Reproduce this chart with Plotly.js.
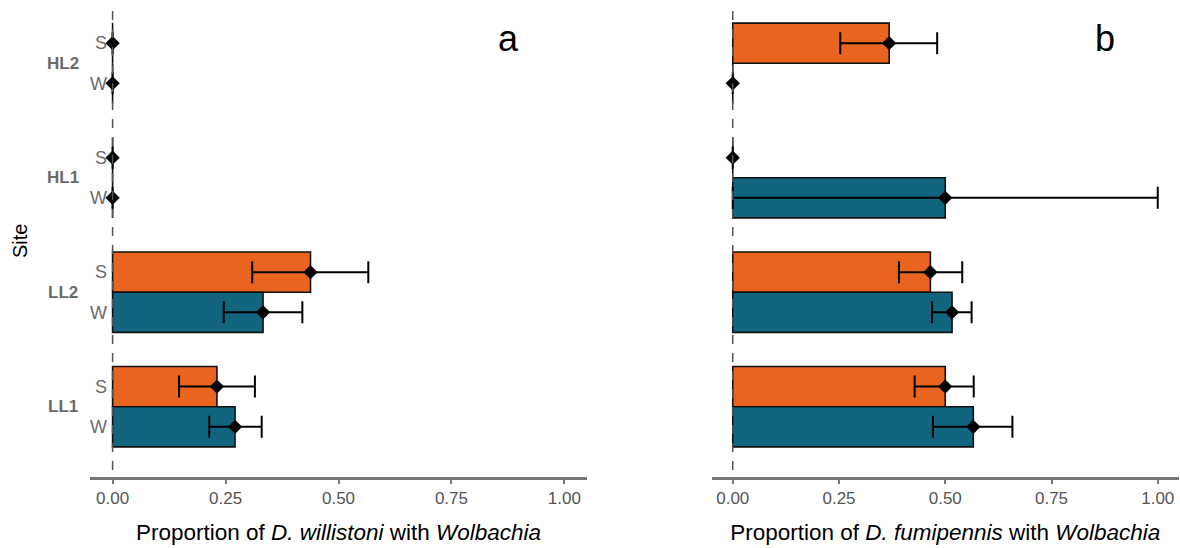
<!DOCTYPE html>
<html>
<head>
<meta charset="utf-8">
<script src="https://cdn.plot.ly/plotly-3.0.1.min.js"></script>
<style>html,body{margin:0;padding:0;background:#fff;}#chart{width:1180px;height:548px;}</style>
</head>
<body>
<div id="chart"></div>
<script>
// Sites from top to bottom
const sites = ['HL2', 'HL1', 'LL2', 'LL1'];
const seasons = ['S', 'W'];

// Panel a: D. willistoni  (order follows sites)
const willS = [0, 0, 0.438, 0.231];
const willS_lo = [0, 0, 0.309, 0.147];
const willS_hi = [0, 0, 0.566, 0.315];
const willW = [0, 0, 0.333, 0.271];
const willW_lo = [0, 0, 0.246, 0.214];
const willW_hi = [0, 0, 0.420, 0.330];

// Panel b: D. fumipennis
const fumiS = [0.368, 0, 0.465, 0.500];
const fumiS_lo = [0.253, 0, 0.391, 0.428];
const fumiS_hi = [0.481, 0, 0.540, 0.567];
const fumiW = [0, 0.500, 0.516, 0.566];
const fumiW_lo = [0, 0, 0.469, 0.471];
const fumiW_hi = [0, 1.000, 0.562, 0.658];

const xTicks = [0, 0.25, 0.5, 0.75, 1];
const xTickText = ['0.00', '0.25', '0.50', '0.75', '1.00'];

const colS = '#E8641F';
const colW = '#11657F';

// layout positions (row placement)
const GROUP_STEP = 2.85;
function rowPos(gi, season) { return (sites.length - 1 - gi) * GROUP_STEP + (season === 'S' ? 1 : 0); }
const yS = sites.map((s, i) => rowPos(i, 'S'));
const yW = sites.map((s, i) => rowPos(i, 'W'));

function barTrace(vals, ys, color, xa) {
  return {type: 'bar', orientation: 'h', x: vals, y: ys, width: 1, xaxis: xa, yaxis: 'y',
    marker: {color: color, line: {color: '#111', width: 1.6}}, hoverinfo: 'skip', showlegend: false};
}
function errTrace(vals, lo, hi, ys, xa) {
  return {type: 'scatter', mode: 'markers', x: vals, y: ys, xaxis: xa, yaxis: 'y',
    marker: {symbol: 'diamond', size: 11, color: '#000'},
    error_x: {type: 'data', symmetric: false,
      array: vals.map((v, i) => hi[i] - v), arrayminus: vals.map((v, i) => v - lo[i]),
      color: '#000', thickness: 2, width: 11},
    showlegend: false, hoverinfo: 'skip', cliponaxis: false};
}

const data = [
  barTrace(willS, yS, colS, 'x'), barTrace(willW, yW, colW, 'x'),
  barTrace(fumiS, yS, colS, 'x2'), barTrace(fumiW, yW, colW, 'x2'),
  errTrace(willS, willS_lo, willS_hi, yS, 'x'), errTrace(willW, willW_lo, willW_hi, yW, 'x'),
  errTrace(fumiS, fumiS_lo, fumiS_hi, yS, 'x2'), errTrace(fumiW, fumiW_lo, fumiW_hi, yW, 'x2')
];

const FONT = 'Liberation Sans, Arial, sans-serif';
const plotW = 1180 - 90 - 1;

function xAxis(domain, title) {
  return {domain: domain, range: [-0.05, 1.05], anchor: 'y', showgrid: false, zeroline: false,
    showline: true, linecolor: '#777', linewidth: 2.5,
    ticks: 'outside', ticklen: 4, tickwidth: 2, tickcolor: '#777',
    tickvals: xTicks, ticktext: xTickText, tickfont: {family: FONT, size: 17, color: '#555'},
    title: {text: title, font: {family: FONT, size: 22.5, color: '#000'}, standoff: 18},
    fixedrange: true};
}

const tickVals = yS.concat(yW);
const tickText = yS.map(() => 'S').concat(yW.map(() => 'W'));

const annotations = sites.map((s, i) => ({
  xref: 'paper', yref: 'y', x: (63 - 90) / plotW, y: (yS[i] + yW[i]) / 2, text: '<b>' + s + '</b>',
  showarrow: false, xanchor: 'center', yanchor: 'middle', font: {family: FONT, size: 17, color: '#6a6a6a'}
}));
annotations.push({xref: 'paper', yref: 'paper', x: (20 - 90) / plotW, y: 0.5, text: 'Site', textangle: -90,
  showarrow: false, xanchor: 'center', yanchor: 'middle', font: {family: FONT, size: 20, color: '#000'}});
annotations.push({xref: 'x', yref: 'y', x: 0.877, y: yS[0] + 0.12, text: 'a', showarrow: false,
  xanchor: 'center', yanchor: 'middle', font: {family: FONT, size: 36, color: '#000'}});
annotations.push({xref: 'x2', yref: 'y', x: 0.875, y: yS[0] + 0.12, text: 'b', showarrow: false,
  xanchor: 'center', yanchor: 'middle', font: {family: FONT, size: 36, color: '#000'}});

const layout = {
  width: 1180, height: 548,
  margin: {l: 90, r: 1, t: 5, b: 71},
  paper_bgcolor: '#fff', plot_bgcolor: '#fff',
  barmode: 'overlay',
  font: {family: FONT},
  xaxis: xAxis([0, 497 / plotW], 'Proportion of <i>D. willistoni</i> with <i>Wolbachia</i>'),
  xaxis2: xAxis([(711.5 - 90) / plotW, 1], 'Proportion of <i>D. fumipennis</i> with <i>Wolbachia</i>'),
  yaxis: {range: [-1.25, 10.5], anchor: 'free', position: (107 - 90) / plotW, showgrid: false, zeroline: false,
    showline: false, ticks: '', tickvals: tickVals, ticktext: tickText,
    tickfont: {family: FONT, size: 18, color: '#6a6a6a'}, fixedrange: true},
  shapes: [
    {type: 'line', xref: 'x', yref: 'paper', x0: 0, x1: 0, y0: 0.015, y1: 1, layer: 'above',
      line: {color: '#555', width: 1.5, dash: 'dash'}},
    {type: 'line', xref: 'x2', yref: 'paper', x0: 0, x1: 0, y0: 0.015, y1: 1, layer: 'above',
      line: {color: '#555', width: 1.5, dash: 'dash'}}
  ],
  annotations: annotations
};

Plotly.newPlot('chart', data, layout, {displayModeBar: false, staticPlot: true});
</script>
</body>
</html>
